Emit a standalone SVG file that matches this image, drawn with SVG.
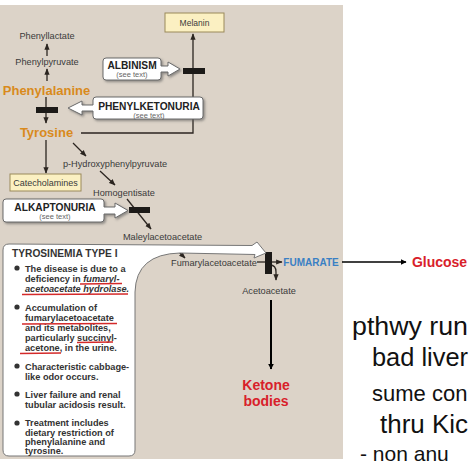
<svg xmlns="http://www.w3.org/2000/svg" width="474" height="466" viewBox="0 0 474 466">
<defs>
<style>
.lbl{font-family:"Liberation Sans",Arial,sans-serif;font-size:9.2px;fill:#3a3a3a;text-anchor:middle}
.aa{font-family:"Liberation Sans",Arial,sans-serif;font-size:13px;font-weight:bold;fill:#d98a1c;text-anchor:middle}
.cap{font-family:"Liberation Sans",Arial,sans-serif;font-size:10.2px;font-weight:bold;fill:#222;text-anchor:middle}
.see{font-family:"Liberation Sans",Arial,sans-serif;font-size:7.5px;fill:#666;text-anchor:middle}
.red{font-family:"Liberation Sans",Arial,sans-serif;font-size:14px;font-weight:bold;fill:#d8202a;text-anchor:middle}
.tx{font-family:"Liberation Sans",Arial,sans-serif;font-size:9.2px;font-weight:bold;fill:#333}
.hand{font-family:"Liberation Sans",sans-serif;font-size:25px;fill:#111}
.ln{stroke:#2b2520;stroke-width:1.3;fill:none}
.ul{stroke:#d42a2a;stroke-width:1.4;fill:none}
.blk{fill:#1c1a18}
.call{fill:#fff;stroke:#6a6a6a;stroke-width:1;filter:url(#sh)}
.ybox{fill:#fbf0c2;stroke:#9a8a5a;stroke-width:1}
</style>
<filter id="sh" x="-20%" y="-30%" width="140%" height="170%">
<feDropShadow dx="1.5" dy="1.5" stdDeviation="1.3" flood-color="#555" flood-opacity="0.6"/>
</filter>
<marker id="ah" viewBox="0 0 10 10" refX="9" refY="5" markerWidth="5" markerHeight="5" orient="auto">
<path d="M0,1 L10,5 L0,9 Z" fill="#2b2520"/>
</marker>
<marker id="ahb" viewBox="0 0 10 10" refX="9" refY="5" markerWidth="6" markerHeight="6" orient="auto" markerUnits="userSpaceOnUse">
<path d="M0,0 L10,5 L0,10 Z" fill="#000"/>
</marker>
</defs>
<rect x="0" y="0" width="474" height="466" fill="#fff"/>
<rect x="0" y="5" width="343" height="454" fill="#dcd3c8"/>

<g id="connectors">
<line class="ln" x1="47" y1="56" x2="47" y2="44" marker-end="url(#ah)"/>
<line class="ln" x1="47" y1="81" x2="47" y2="69" marker-end="url(#ah)"/>
<line class="ln" x1="46" y1="97" x2="46" y2="123" marker-end="url(#ah)"/>
<line class="ln" x1="46" y1="140" x2="46" y2="173" marker-end="url(#ah)"/>
<polyline class="ln" points="81,133 193,133 193,34" marker-end="url(#ah)"/>
<line class="ln" x1="73" y1="143" x2="86" y2="156" marker-end="url(#ah)"/>
<line class="ln" x1="100" y1="171" x2="115" y2="185" marker-end="url(#ah)"/>
<line class="ln" x1="127" y1="199" x2="151" y2="229" marker-end="url(#ah)"/>
<line class="ln" x1="177" y1="250" x2="185" y2="258" marker-end="url(#ah)"/>
<line class="ln" x1="257" y1="262" x2="282" y2="262" marker-end="url(#ah)"/>
<path class="ln" d="M270 265 Q276 265 276 272 L276 280" marker-end="url(#ah)"/>
<line x1="271" y1="300" x2="271" y2="369" stroke="#000" stroke-width="2" marker-end="url(#ahb)"/>
<line x1="342" y1="262" x2="406" y2="262" stroke="#000" stroke-width="1.6" marker-end="url(#ahb)"/>
<rect class="blk" x="183" y="68" width="22" height="6"/>
<rect class="blk" x="36" y="107" width="22" height="6"/>
<rect class="blk" x="129" y="207" width="21" height="6"/>
<rect class="blk" x="265" y="252" width="7" height="22"/>
</g>

<g id="melanin">
<rect class="ybox" x="165" y="13" width="59" height="19"/>
<text class="lbl" x="194.5" y="26" style="font-size:8.5px">Melanin</text>
</g>
<g id="phenyllactate"><text class="lbl" x="47" y="38.5">Phenyllactate</text></g>
<g id="phenylpyruvate"><text class="lbl" x="47" y="64.5">Phenylpyruvate</text></g>
<g id="phenylalanine"><text class="aa" x="46.5" y="95">Phenylalanine</text></g>
<g id="tyrosine"><text class="aa" x="46.5" y="137">Tyrosine</text></g>
<g id="catecholamines">
<rect class="ybox" x="10" y="174" width="71" height="17"/>
<text class="lbl" x="45.5" y="186" style="font-size:9px">Catecholamines</text>
</g>
<g id="phhpp"><text class="lbl" x="115" y="166.5">p-Hydroxyphenylpyruvate</text></g>
<g id="homogentisate"><text class="lbl" x="124" y="196">Homogentisate</text></g>
<g id="maleylacetoacetate"><text class="lbl" x="162.5" y="239.5">Maleylacetoacetate</text></g>
<g id="fumarylacetoacetate"><text class="lbl" x="214" y="265.5">Fumarylacetoacetate</text></g>
<g id="acetoacetate"><text class="lbl" x="269" y="293.5">Acetoacetate</text></g>
<g id="fumarate"><text x="311" y="266" font-family="Liberation Sans, Arial, sans-serif" font-size="10px" font-weight="bold" fill="#3a80c4" text-anchor="middle">FUMARATE</text></g>
<g id="glucose"><text class="red" x="439.5" y="267">Glucose</text></g>
<g id="ketone">
<text class="red" x="266" y="390">Ketone</text>
<text class="red" x="266" y="406">bodies</text>
</g>

<g id="albinism">
<path class="call" d="M106 58 H158 Q161 58 161 61 V66 H168 V62 L180 69 L168 76 V72 H161 V77 Q161 80 158 80 H106 Q103 80 103 77 V61 Q103 58 106 58 Z"/>
<text class="cap" x="132" y="68.5">ALBINISM</text>
<text class="see" x="132" y="77">(see text)</text>
</g>
<g id="pku">
<path class="call" d="M96 97 H200 Q203 97 203 100 V116 Q203 119 200 119 H96 Q93 119 93 116 V111 H82 V115 L68 108 L82 101 V105 H93 V100 Q93 97 96 97 Z"/>
<text class="cap" x="149" y="110">PHENYLKETONURIA</text>
<text class="see" x="149" y="118">(see text)</text>
</g>
<g id="alkaptonuria">
<path class="call" d="M6 199 H101 Q104 199 104 202 V207 H115 V203 L128 210.5 L115 218 V214 H104 V219 Q104 222 101 222 H6 Q3 222 3 219 V202 Q3 199 6 199 Z"/>
<text class="cap" x="55" y="210.5">ALKAPTONURIA</text>
<text class="see" x="55" y="219">(see text)</text>
</g>

<g id="tyrosinemia">
<path d="M9 244 L252 245.5 L257 242 L266 253 L254 258 L255 254.5 L180 253 Q136 254 135 292 L135 450 Q135 456 129 456 L9 456 Q3 456 3 450 L3 250 Q3 244 9 244 Z" fill="#fff" stroke="#777" stroke-width="1"/>
<text class="tx" x="12" y="257" style="font-size:10.2px">TYROSINEMIA TYPE I</text>
<g fill="#333">
<circle cx="17" cy="268" r="2.6"/><circle cx="17" cy="307" r="2.6"/><circle cx="17" cy="366" r="2.6"/><circle cx="17" cy="394" r="2.6"/><circle cx="17" cy="423" r="2.6"/>
</g>
<text class="tx" x="25" y="271.5">The disease is due to a</text>
<text class="tx" x="25" y="282">deficiency in <tspan font-style="italic">fumaryl-</tspan></text>
<text class="tx" x="25" y="292" font-style="italic">acetoacetate hydrolase.</text>
<text class="tx" x="25" y="310.5">Accumulation of</text>
<text class="tx" x="25" y="321">fumarylacetoacetate</text>
<text class="tx" x="25" y="331">and its metabolites,</text>
<text class="tx" x="25" y="341">particularly succinyl-</text>
<text class="tx" x="25" y="351">acetone, in the urine.</text>
<text class="tx" x="25" y="369.5">Characteristic cabbage-</text>
<text class="tx" x="25" y="379.5">like odor occurs.</text>
<text class="tx" x="25" y="397.5">Liver failure and renal</text>
<text class="tx" x="25" y="407.5">tubular acidosis result.</text>
<text class="tx" x="25" y="426">Treatment includes</text>
<text class="tx" x="25" y="435.5">dietary restriction of</text>
<text class="tx" x="25" y="444.5">phenylalanine and</text>
<text class="tx" x="25" y="453.5">tyrosine.</text>
<path class="ul" d="M80 284 L122 283.5"/>
<path class="ul" d="M22 294.5 L128 294"/>
<path class="ul" d="M22 324 L117 323.5"/>
<path class="ul" d="M77 342.5 L113 342"/>
<path class="ul" d="M20 353.5 L61 353"/>
</g>

<g id="handwriting">
<text class="hand" x="352" y="335" textLength="116" lengthAdjust="spacingAndGlyphs">pthwy run</text>
<text class="hand" x="372" y="366" textLength="96" lengthAdjust="spacingAndGlyphs">bad liver</text>
<text class="hand" x="372" y="401" style="font-size:22px">sume con</text>
<text class="hand" x="380" y="433" textLength="88" lengthAdjust="spacingAndGlyphs">thru Kic</text>
<text class="hand" x="360" y="461" style="font-size:21px">- non anu</text>
</g>
</svg>
